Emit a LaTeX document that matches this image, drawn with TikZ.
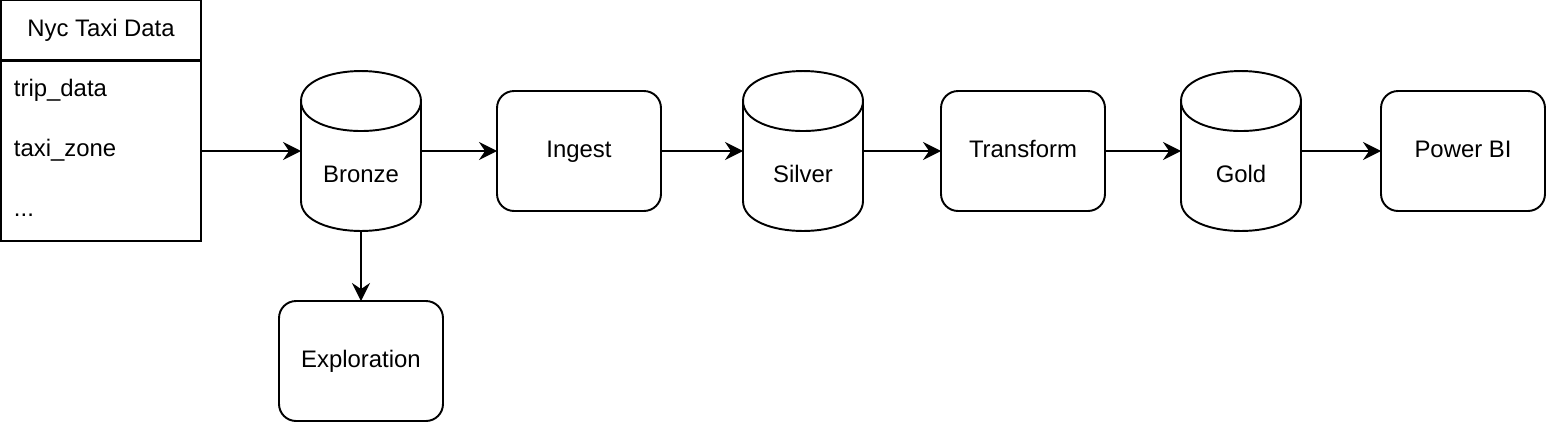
\documentclass[tikz,border=0pt]{standalone}
\usepackage{fontspec}
\setmainfont{Liberation Sans}
\usetikzlibrary{arrows.meta,calc}

\begin{document}
\begin{tikzpicture}[x=0.02cm,y=-0.02cm,line width=1.1pt,
    font=\fontsize{13.6}{16}\selectfont,
    every node/.style={text height=0.716em,text depth=0pt},
    box/.style={draw=black,rounded corners=0.34cm,minimum width=3.28cm,minimum height=2.4cm,inner sep=0pt,outer sep=0pt},
    db/.style={minimum width=2.4cm,minimum height=3.2cm,inner sep=0pt,outer sep=0pt},
    tab/.style={draw=black,minimum width=4cm,inner sep=0pt,outer sep=0pt},
    row/.style={anchor=west,inner sep=0pt},
    flow/.style={-{Stealth[length=0.36cm,width=0.36cm,inset=0.12cm]}}]
    \useasboundingbox (0,0) rectangle (1546,424);

    % source table
    \node[tab,minimum height=1.2cm] (head) at (101,30) {Nyc Taxi Data};
    \node[tab,minimum height=3.6cm] (body) at (101,151) {};
    \node[row] (trip) at (13,90) {trip\_data};
    \node[row] (zone) at (13,150) {taxi\_zone};
    \node[row] (more) at (13,210) {...};

    % layers and steps
    \node[db,label={[yshift=-0.5cm]center:Bronze}] (bronze) at (361,151) {};
    \node[box] (ingest) at (579,151) {Ingest};
    \node[db,label={[yshift=-0.5cm]center:Silver}] (silver) at (803,151) {};
    \node[box] (transform) at (1023,151) {Transform};
    \node[db,label={[yshift=-0.5cm]center:Gold}] (gold) at (1241,151) {};
    \node[box] (powerbi) at (1463,151) {Power BI};
    \node[box] (explore) at (361,361) {Exploration};

    % cylinders
    \foreach \n in {bronze,silver,gold}{
        \draw ($(\n.north west)+(0,30)$) .. controls +(0,-40) and +(0,-40) .. ($(\n.north east)+(0,30)$)
            -- ($(\n.south east)+(0,-30)$) .. controls +(0,40) and +(0,40) .. ($(\n.south west)+(0,-30)$) -- cycle;
        \draw ($(\n.north west)+(0,30)$) .. controls +(0,40) and +(0,40) .. ($(\n.north east)+(0,30)$);
    }

    \draw [flow] (body.east) -- (bronze.west);
    \draw [flow] (bronze.east) -- (ingest.west);
    \draw [flow] (ingest.east) -- (silver.west);
    \draw [flow] (silver.east) -- (transform.west);
    \draw [flow] (transform.east) -- (gold.west);
    \draw [flow] (gold.east) -- (powerbi.west);
    \draw [flow] (bronze.south) -- (explore.north);
\end{tikzpicture}
\end{document}
